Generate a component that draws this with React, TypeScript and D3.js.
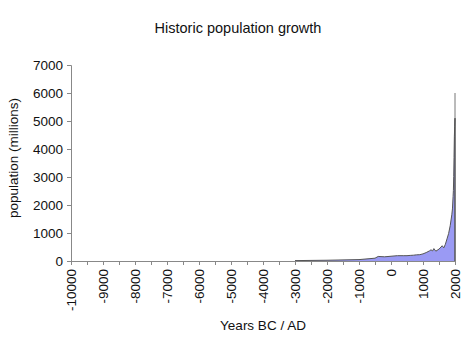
import { useEffect, useRef } from "react";
import * as d3 from "d3";

const years = [
  -3000, -2000, -1000, -500, -400, -200, 0, 200, 400, 500, 600, 700, 800, 900,
  1000, 1100, 1200, 1250, 1300, 1340, 1400, 1500, 1600, 1650, 1700, 1750,
  1800, 1850, 1900, 1920, 1940, 1950, 1960, 1970, 1980, 1990, 2000,
];
const population = [
  14, 27, 50, 100, 162, 150, 170, 190, 190, 190, 200, 207, 220, 226, 254, 301,
  360, 400, 360, 443, 350, 425, 545, 470, 600, 790, 980, 1260, 1650, 1860,
  2300, 2518, 3020, 3700, 4440, 4800, 5100,
];
const peak = 6000;
const yTicks = [0, 1000, 2000, 3000, 4000, 5000, 6000, 7000];
const xLabelTicks = [-10000, -9000, -8000, -7000, -6000, -5000, -4000, -3000, -2000, -1000, 0, 1000, 2000];
const xMinorTicks = d3.range(-10000, 2001, 500);

const W = 474;
const H = 353;
const FONT = "Liberation Sans, Arial, sans-serif";

const App = () => {
  const svgRef = useRef<SVGSVGElement | null>(null);

  useEffect(() => {
    if (!svgRef.current) return;
    const svg = d3.select(svgRef.current);
    svg.selectAll("*").remove();

    const x = d3.scaleLinear().domain([-10000, 2000]).range([71, 455]);
    const y = d3.scaleLinear().domain([0, 7000]).range([261, 65]);

    const data = years.map((yr, i) => ({ yr, p: population[i] }));

    // area
    svg
      .append("path")
      .datum(data)
      .attr(
        "d",
        d3
          .area<{ yr: number; p: number }>()
          .x((d) => x(d.yr))
          .y0(y(0))
          .y1((d) => y(d.p))
      )
      .attr("fill", "#9a9af4")
      .attr("stroke", "none");

    svg
      .append("path")
      .datum(data)
      .attr(
        "d",
        d3
          .line<{ yr: number; p: number }>()
          .x((d) => x(d.yr))
          .y((d) => y(d.p))
      )
      .attr("fill", "none")
      .attr("stroke", "#555")
      .attr("stroke-width", 1);

    // right edge line up to the latest estimate
    svg
      .append("line")
      .attr("x1", x(2000))
      .attr("x2", x(2000))
      .attr("y1", y(0))
      .attr("y2", y(peak))
      .attr("stroke", "#777")
      .attr("stroke-width", 1);
    svg
      .append("line")
      .attr("x1", x(2000))
      .attr("x2", x(2000))
      .attr("y1", y(0))
      .attr("y2", y(population[population.length - 1]))
      .attr("stroke", "#444")
      .attr("stroke-width", 1);

    // y axis
    const yAxis = svg
      .append("g")
      .attr("transform", `translate(${x(-10000)},0)`)
      .call(d3.axisLeft(y).tickValues(yTicks).tickSize(4).tickPadding(4).tickFormat(d3.format("d")));
    yAxis.selectAll("path, line").attr("stroke", "#888");
    yAxis.selectAll("text").attr("font-family", FONT).attr("font-size", 13.5).attr("fill", "#111");

    // x axis
    const xAxis = svg
      .append("g")
      .attr("transform", `translate(0,${y(0)})`)
      .call(d3.axisBottom(x).tickValues(xMinorTicks).tickSize(4).tickFormat(() => ""));
    xAxis.selectAll("path, line").attr("stroke", "#888");

    svg
      .append("g")
      .selectAll("text")
      .data(xLabelTicks)
      .join("text")
      .attr("transform", (d) => `translate(${x(d)},269) rotate(-90)`)
      .attr("text-anchor", "end")
      .attr("dy", "0.35em")
      .attr("font-family", FONT)
      .attr("font-size", 13.5)
      .attr("fill", "#111")
      .text((d) => String(d));

    // title
    svg
      .append("text")
      .attr("x", 238)
      .attr("y", 33)
      .attr("text-anchor", "middle")
      .attr("font-family", FONT)
      .attr("font-size", 14.5)
      .attr("fill", "#111")
      .text("Historic population growth");

    svg
      .append("text")
      .attr("x", 263)
      .attr("y", 330)
      .attr("text-anchor", "middle")
      .attr("font-family", FONT)
      .attr("font-size", 13.5)
      .attr("fill", "#111")
      .text("Years BC / AD");

    svg
      .append("text")
      .attr("transform", `translate(18,158) rotate(-90)`)
      .attr("text-anchor", "middle")
      .attr("font-family", FONT)
      .attr("font-size", 13.5)
      .attr("fill", "#111")
      .text("population (millions)");
  }, []);

  return (
    <div style={{ position: "absolute", left: 0, top: 0, background: "#fff" }}>
      <svg ref={svgRef} width={W} height={H} style={{ display: "block" }} />
    </div>
  );
};

export default App;
